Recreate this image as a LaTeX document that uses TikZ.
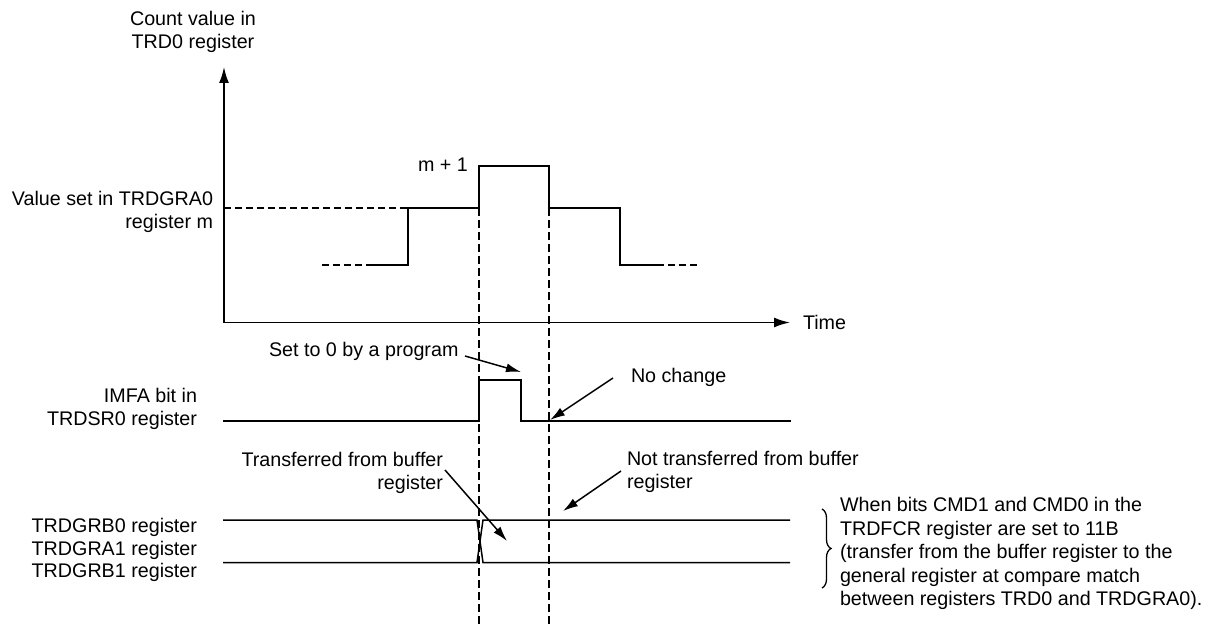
\documentclass[tikz,border=0pt]{standalone}
\usepackage{fontspec}
\setmainfont{Liberation Sans}
\usetikzlibrary{arrows.meta,decorations.pathreplacing}
\begin{document}
\begin{tikzpicture}[x=1pt,y=-1pt,
  every node/.style={inner sep=0pt,outer sep=0pt,font=\fontsize{19.7}{23}\selectfont},
  wave/.style={line width=1.5pt},
  axis/.style={line width=1.8pt,-{Latex[length=16pt,width=10pt]}},
  dashl/.style={line width=2.2pt,dash pattern=on 7pt off 4pt},
  dashv/.style={line width=2.4pt,dash pattern=on 8pt off 4pt},
  callout/.style={line width=1.5pt,-{Latex[length=15pt,width=9pt]}}]
\useasboundingbox (0,0) rectangle (1215,628);
% axes
\coordinate (o) at (224,322.5);
\coordinate (ytop) at (224,67);
\coordinate (xend) at (790,322.5);
\draw[axis] (o) -- (ytop);
\draw[axis] (o) -- (xend);
\node[anchor=base west] (time) at (803,329) {Time};
\node[align=center,anchor=north] (ylab) at (193,10.8) {Count value in\\TRD0 register};
\node[align=right,anchor=north east] (mlab) at (213,190.8) {Value set in TRDGRA0\\register m};
\node[anchor=base west] (m1) at (418,172) {m + 1};
% count waveform
\draw[dashl] (224,208) -- (423,208);
\draw[dashl] (322,265) -- (367,265);
\draw[wave] (367,265) -- (408,265) -- (408,208) -- (479,208) -- (479,166) -- (549,166) -- (549,208) -- (620,208) -- (620,265) -- (657,265);
\draw[dashl] (657,265) -- (700,265);
% vertical dashed lines
\coordinate (v1t) at (479,208);
\coordinate (v1b) at (479,627);
\coordinate (v2t) at (549,208);
\coordinate (v2b) at (549,627);
\draw[dashv] (v1t) -- (v1b);
\draw[dashv] (v2t) -- (v2b);
% IMFA
\node[align=right,anchor=north east] (imfa) at (197,387.8) {IMFA bit in\\TRDSR0 register};
\draw[wave] (223,421) -- (479,421) -- (479,380) -- (521,380) -- (521,421) -- (791,421);
\node[anchor=base west] (set0) at (269,356) {Set to 0 by a program};
\coordinate (s0a) at (465,356);
\coordinate (s0b) at (521,372);
\draw[callout] (s0a) -- (s0b);
\node[anchor=base west] (nochg) at (631,382) {No change};
\coordinate (nca) at (613,378);
\coordinate (ncb) at (550,420);
\draw[callout] (nca) -- (ncb);
% register lines
\node[align=right,anchor=north east,font=\fontsize{19.7}{22.5}\selectfont] (regs) at (197,518.3) {TRDGRB0 register\\TRDGRA1 register\\TRDGRB1 register};
\draw[wave] (223,520) -- (477,520) -- (483,562.5) -- (790,562.5);
\draw[wave] (223,562.5) -- (477,562.5) -- (483,520) -- (790,520);
\node[align=right,anchor=north east] (trf) at (443,451.8) {Transferred from buffer\\register};
\coordinate (tra) at (445,470);
\coordinate (trb) at (507,541);
\draw[callout] (tra) -- (trb);
\node[align=left,anchor=north west] (ntrf) at (627,451) {Not transferred from buffer\\register};
\coordinate (ntra) at (621,471);
\coordinate (ntrb) at (563,511);
\draw[callout] (ntra) -- (ntrb);
% brace and note
\coordinate (bt) at (822,509);
\coordinate (bb) at (822,588);
\draw[line width=1.3pt,decorate,decoration={brace,amplitude=9pt}] (bt) -- (bb);
\node[align=left,anchor=north west,font=\fontsize{19.7}{23.5}\selectfont] (note) at (840,497.5) {When bits CMD1 and CMD0 in the\\TRDFCR register are set to 11B\\(transfer from the buffer register to the\\general register at compare match\\between registers TRD0 and TRDGRA0).};
\end{tikzpicture}
\end{document}
